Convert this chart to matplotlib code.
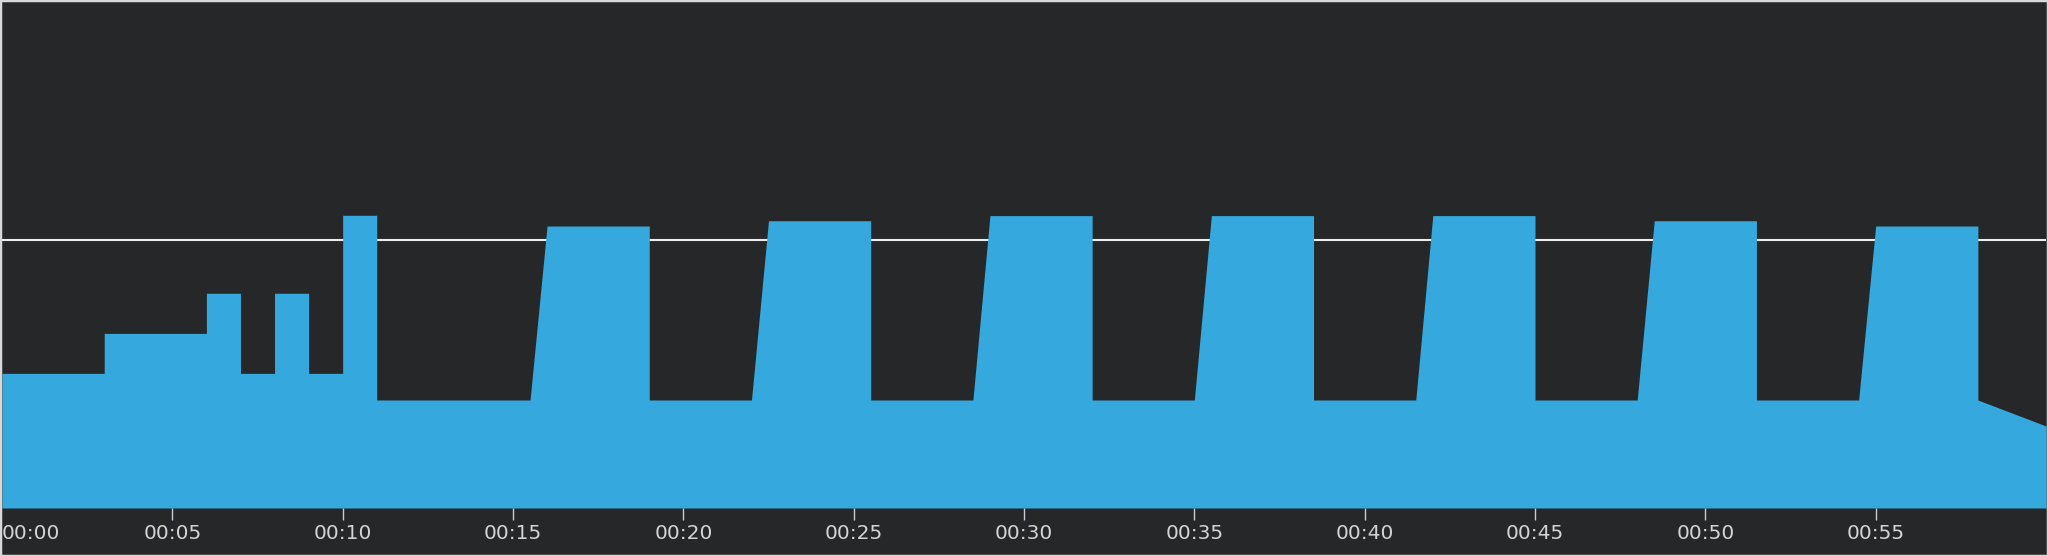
import matplotlib.pyplot as plt
from matplotlib.patches import Rectangle

# frame time trace (ms) against elapsed seconds
times = [0, 3, 3, 6, 6, 7, 7, 8, 8, 9, 9, 10, 10, 11, 11,
         15.5, 16, 19, 19,
         22, 22.5, 25.5, 25.5,
         28.5, 29, 32, 32,
         35, 35.5, 38.5, 38.5,
         41.5, 42, 45, 45,
         48, 48.5, 51.5, 51.5,
         54.5, 55, 58, 58,
         60]
frame_ms = [8.39, 8.39, 10.88, 10.88, 13.38, 13.38, 8.39, 8.39, 13.38, 13.38, 8.39, 8.39, 18.24, 18.24, 6.73,
            6.73, 17.57, 17.57, 6.73,
            6.73, 17.9, 17.9, 6.73,
            6.73, 18.22, 18.22, 6.73,
            6.73, 18.22, 18.22, 6.73,
            6.73, 18.22, 18.22, 6.73,
            6.73, 17.9, 17.9, 6.73,
            6.73, 17.57, 17.57, 6.73,
            5.11]
budget_ms = 16.7
tick_secs = list(range(0, 60, 5))
tick_labels = ['00:%02d' % s for s in tick_secs]

bg = '#262729'
blue = '#35a9de'

fig = plt.figure(figsize=(20.48, 5.56), dpi=100, facecolor=bg)
ax = fig.add_axes([2 / 2048, 48 / 556, 2044 / 2048, 506 / 556])
ax.set_facecolor(bg)

ax.axhline(budget_ms, color='#ececec', lw=1.5, zorder=1)
ax.fill_between(times, frame_ms, 0, color=blue, lw=0, zorder=2)

ax.set_xlim(0, 60)
ax.set_ylim(0, 31.53)
ax.set_yticks([])
ax.set_xticks(tick_secs)
ax.set_xticklabels(tick_labels)
ax.tick_params(axis='x', direction='out', length=8.6, width=1, color='#c8ccd4',
               labelcolor='#d4d4d4', labelsize=14.5, pad=3)
ax.get_xticklabels()[0].set_horizontalalignment('left')
ax.xaxis.get_major_ticks()[0].tick1line.set_visible(False)
for s in ax.spines.values():
    s.set_visible(False)

# light frame around the whole picture
fig.patches.append(Rectangle((0, 0), 1, 1, transform=fig.transFigure, fill=False,
                             edgecolor='#d8d8d8', lw=2.5, zorder=10))

fig.savefig('out.png', dpi=100, facecolor=bg)
